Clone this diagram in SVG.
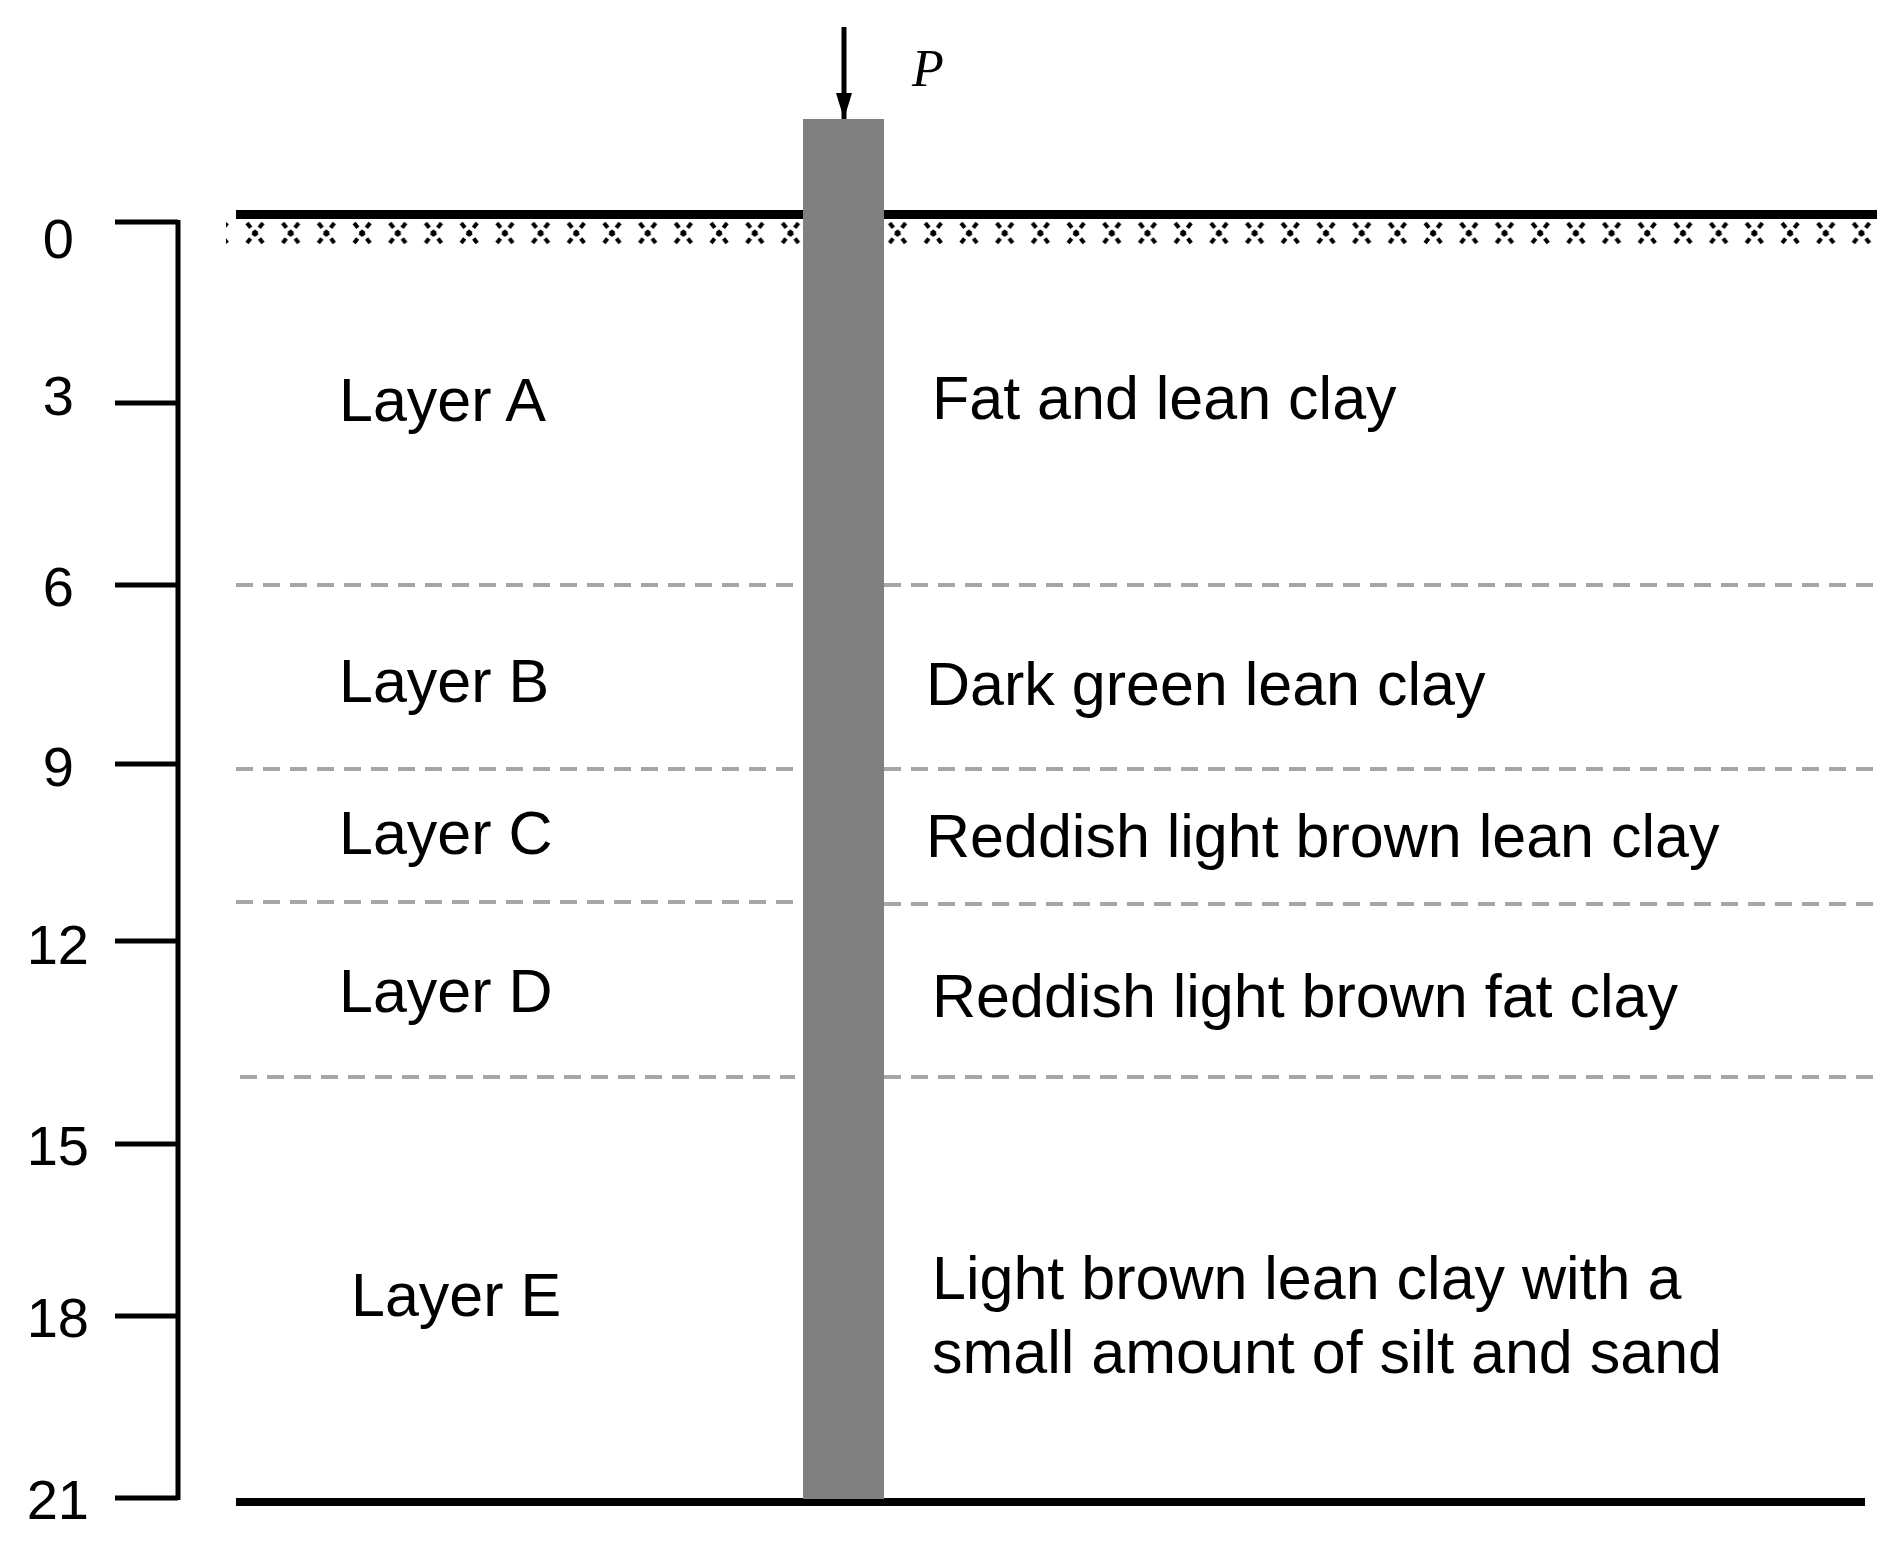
<svg xmlns="http://www.w3.org/2000/svg" width="1899" height="1553" viewBox="0 0 1899 1553">
<defs>
<style>
.t{font-family:"Liberation Sans",Arial,sans-serif;font-size:61px;fill:#000}
.n{font-family:"Liberation Sans",Arial,sans-serif;font-size:56px;fill:#000;text-anchor:end}
.d{stroke:#a6a6a6;stroke-width:4;stroke-dasharray:17 10;fill:none}
.k{stroke:#000;stroke-width:5;fill:none}
</style>
<pattern id="xp" x="236" y="221" width="35.7" height="24" patternUnits="userSpaceOnUse">
<path d="M11 2 L27 22 M27 2 L11 22" stroke="#000" stroke-width="4" stroke-dasharray="6 4"/>
</pattern>
<marker id="ah" markerWidth="26" markerHeight="16" refX="26" refY="8" orient="auto" markerUnits="userSpaceOnUse" viewBox="0 0 26 16">
<path d="M0 0 L26 8 L0 16 z" fill="#000"/>
</marker>
</defs>
<rect width="1899" height="1553" fill="#fff"/>
<g id="ground">
<line x1="236" y1="214.5" x2="1877" y2="214.5" stroke="#000" stroke-width="9"/>
<rect x="226" y="221" width="1651" height="24" fill="url(#xp)"/>
<line x1="236" y1="1502" x2="1865" y2="1502" stroke="#000" stroke-width="8"/>
</g>
<g id="boundaries">
<line class="d" x1="236" y1="585" x2="795" y2="585"/><line class="d" x1="884" y1="585" x2="1877" y2="585"/>
<line class="d" x1="236" y1="769" x2="795" y2="769"/><line class="d" x1="884" y1="769" x2="1877" y2="769"/>
<line class="d" x1="236" y1="902" x2="795" y2="902"/><line class="d" x1="884" y1="904" x2="1877" y2="904"/>
<line class="d" x1="240" y1="1077" x2="795" y2="1077"/><line class="d" x1="884" y1="1077" x2="1877" y2="1077"/>
</g>
<g id="pile"><rect x="803" y="119" width="81" height="1380" fill="#808080"/></g>
<g id="load">
<line x1="844" y1="27" x2="844" y2="119" stroke="#000" stroke-width="5" marker-end="url(#ah)"/>
<text x="912" y="86" style="font-family:'Liberation Serif',serif;font-style:italic;font-size:52px">P</text>
</g>
<g id="axis">
<line class="k" x1="178" y1="220" x2="178" y2="1500"/>
<path class="k" d="M115 222H178M115 403H178M115 585H178M115 764H178M115 941H178M115 1144H178M115 1316H178M115 1498H178"/>
<text class="n" x="74" y="258">0</text>
<text class="n" x="74" y="415">3</text>
<text class="n" x="74" y="606">6</text>
<text class="n" x="74" y="786">9</text>
<text class="n" x="89" y="964">12</text>
<text class="n" x="89" y="1165">15</text>
<text class="n" x="89" y="1337">18</text>
<text class="n" x="89" y="1519">21</text>
</g>
<g id="layers">
<text class="t" x="339" y="421">Layer A</text>
<text class="t" x="339" y="702">Layer B</text>
<text class="t" x="339" y="854">Layer C</text>
<text class="t" x="339" y="1012">Layer D</text>
<text class="t" x="351" y="1316">Layer E</text>
<text class="t" x="932" y="419">Fat and lean clay</text>
<text class="t" x="926" y="705">Dark green lean clay</text>
<text class="t" x="926" y="857">Reddish light brown lean clay</text>
<text class="t" x="932" y="1017">Reddish light brown fat clay</text>
<text class="t" x="932" y="1299">Light brown lean clay with a</text>
<text class="t" x="932" y="1373">small amount of silt and sand</text>
</g>
</svg>
